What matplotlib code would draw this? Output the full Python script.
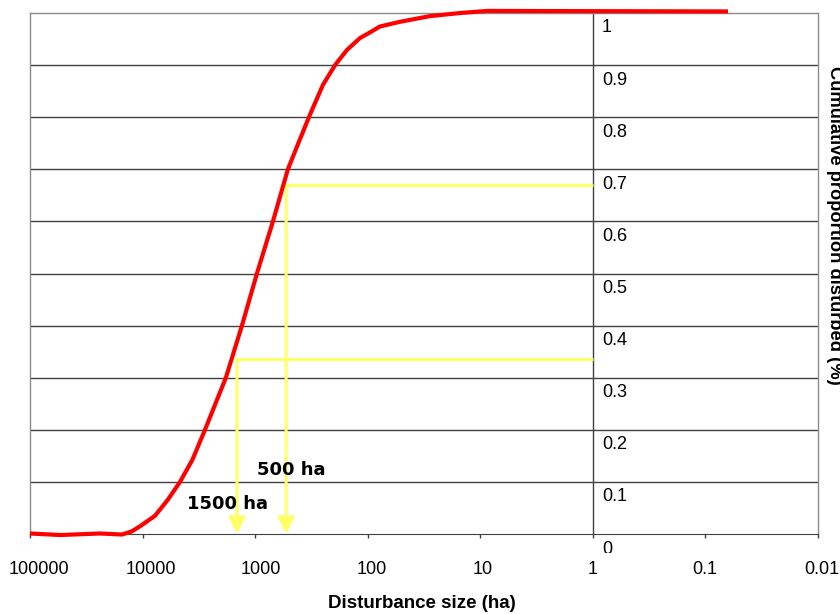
import matplotlib.pyplot as plt
from matplotlib.transforms import offset_copy, Bbox

# ========== DATA ==========
size_ha = [100000, 54000, 24000, 15200, 12500, 10500, 7760, 6000, 4650, 3600, 2790,
           1820, 1310, 964, 695, 512, 426, 333, 250, 195, 153, 117, 95, 78, 52, 28,
           15, 8.7, 0.063]
cum_prop = [0.001, -0.002, 0.001, -0.001, 0.005, 0.015, 0.035, 0.065, 0.10, 0.143, 0.2,
            0.3, 0.4, 0.5, 0.6, 0.7, 0.743, 0.8, 0.862, 0.9, 0.929, 0.952, 0.963, 0.974,
            0.983, 0.994, 1.0, 1.004, 1.003]

ref_sizes = [1450, 530]
ref_props = [0.336, 0.67]
ref_labels = ['1500 ha', '500 ha']

x_ticks = [100000, 10000, 1000, 100, 10, 1, 0.1, 0.01]
x_ticklabels = ['100000', '10000', '1000', '100', '10', '1', '0.1', '0.01']
y_ticks = [0, 0.1, 0.2, 0.3, 0.4, 0.5, 0.6, 0.7, 0.8, 0.9, 1]
y_ticklabels = ['0', '0.1', '0.2', '0.3', '0.4', '0.5', '0.6', '0.7', '0.8', '0.9', '1']

# small horizontal nudges of the x labels (pixels), as in the original
x_label_shift = [9, 8, 6, 4, 2, 0, -1, 4]

# ========== FIGURE ==========
fig = plt.figure(figsize=(8.4, 6.14), dpi=100)
ax = fig.add_axes([30 / 840, 80 / 614, 788 / 840, 521 / 614])

ax.set_xscale('log')
ax.set_xlim(100000, 0.01)
ax.set_ylim(0, 1)

# gridlines
for v in y_ticks[1:-1]:
    ax.axhline(v, color='#404040', lw=1, zorder=1)

# y axis crossing at x = 1
ax.axvline(1, color='#404040', lw=1, zorder=1)

for s in ['left', 'top', 'right']:
    ax.spines[s].set_color('#8c8c8c')
    ax.spines[s].set_linewidth(1)
ax.spines['bottom'].set_color('#404040')

ax.set_yticks([])
ax.set_xticks(x_ticks)
ax.set_xticklabels([])
ax.minorticks_off()
ax.tick_params(axis='x', direction='out', length=3, width=1, color='#404040')

# x tick labels
for v, s, dx in zip(x_ticks, x_ticklabels, x_label_shift):
    tr = offset_copy(ax.transData, fig=fig, x=dx, y=-35, units='dots')
    ax.text(v, 0, s, transform=tr, ha='center', va='center',
            fontfamily='Liberation Sans', fontsize=13, clip_on=False)

# y tick labels next to the crossing axis
lbl_tr = offset_copy(ax.transData, fig=fig, x=9, y=-15, units='dots')
for v, s in zip(y_ticks, y_ticklabels):
    t = ax.text(1, v, s, transform=lbl_tr, ha='left', va='center',
                fontfamily='Liberation Sans', fontsize=13, clip_on=False)
    if v == 0:
        t.set_clip_on(True)
        t.set_clip_box(Bbox([[0, 614 - 553], [840, 614]]))

# curve
ax.plot(size_ha, cum_prop, color='#ff0000', lw=3, solid_joinstyle='round',
        solid_capstyle='butt', clip_on=False, zorder=4)

# reference lines with arrows
yellow = '#ffff66'
for xs, yp in zip(ref_sizes, ref_props):
    ax.plot([xs, 1], [yp, yp], color=yellow, lw=2.2, zorder=3, solid_capstyle='butt')
    ax.annotate('', xy=(xs, 0), xytext=(xs, yp),
                arrowprops=dict(arrowstyle='-|>,head_length=0.5,head_width=0.25',
                                color=yellow, lw=2.2, mutation_scale=20,
                                shrinkA=0, shrinkB=0), zorder=3)

ax.text(964, 0.122, ref_labels[1], ha='left', va='center', fontsize=13,
        fontweight='bold', fontfamily='DejaVu Sans', zorder=5)
ax.text(4035, 0.058, ref_labels[0], ha='left', va='center', fontsize=13,
        fontweight='bold', fontfamily='DejaVu Sans', zorder=5)

# axis titles
fig.text(422 / 840, 1 - 604 / 614, 'Disturbance size (ha)', ha='center', va='center',
         fontfamily='Liberation Sans', fontweight='bold', fontsize=13.5)
fig.text(834 / 840, 1 - 225 / 614, 'Cumulative proportion disturbed (%)', ha='center',
         va='center', rotation=270, fontfamily='Liberation Sans', fontweight='bold',
         fontsize=13.2)

fig.savefig('out.png', dpi=100)
